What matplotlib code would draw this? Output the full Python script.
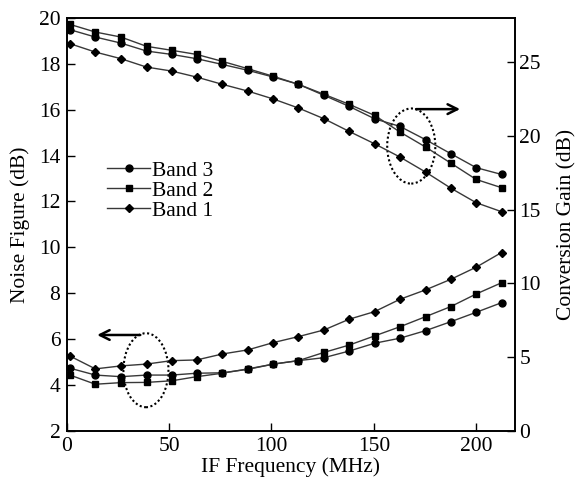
import matplotlib.pyplot as plt
from matplotlib.patches import Ellipse

plt.rcParams['font.family'] = ['Liberation Serif', 'DejaVu Serif']
plt.rcParams['mathtext.fontset'] = 'stix'

# IF frequency points (MHz)
freq = [1.6, 14, 26.5, 39, 51.3, 63.5, 76, 88.5, 101, 113.2, 125.7, 138,
        150.4, 162.8, 175.3, 187.6, 200, 212.4]

# noise figure (dB), left axis
nf_band3 = [4.72, 4.42, 4.35, 4.42, 4.42, 4.50, 4.52, 4.67, 4.90, 5.05, 5.18,
            5.47, 5.81, 6.03, 6.36, 6.75, 7.16, 7.58]
nf_band2 = [4.42, 4.02, 4.09, 4.10, 4.17, 4.35, 4.50, 4.69, 4.90, 5.05, 5.41,
            5.73, 6.13, 6.53, 6.97, 7.41, 7.96, 8.45]
nf_band1 = [5.25, 4.69, 4.82, 4.90, 5.05, 5.08, 5.34, 5.52, 5.84, 6.10, 6.39,
            6.86, 7.19, 7.73, 8.14, 8.60, 9.13, 9.77]

# conversion gain (dB), right axis
cg_band3 = [27.22, 26.72, 26.31, 25.77, 25.54, 25.25, 24.86, 24.46, 24.00,
            23.51, 22.76, 22.01, 21.17, 20.65, 19.75, 18.80, 17.85, 17.39]
cg_band2 = [27.58, 27.06, 26.72, 26.09, 25.82, 25.54, 25.07, 24.57, 24.05,
            23.51, 22.83, 22.15, 21.40, 20.27, 19.25, 18.16, 17.05, 16.49]
cg_band1 = [26.27, 25.70, 25.25, 24.68, 24.41, 24.00, 23.51, 23.05, 22.51,
            21.90, 21.17, 20.31, 19.47, 18.57, 17.55, 16.46, 15.47, 14.86]

labels = ['Band 3', 'Band 2', 'Band 1']
markers = ['o', 's', 'D']

fs = 15.5
fig = plt.figure(figsize=(5.82, 4.92), dpi=100)
ax = fig.add_axes([0.1146, 0.125, 0.7704, 0.838])
ax2 = ax.twinx()

lc = '#383838'
for y, m, lab in zip([nf_band3, nf_band2, nf_band1], markers, labels):
    ax.plot(freq, y, color=lc, lw=1.0, marker=m, ms=5 if m != 'D' else 4.5,
            mfc='k', mec='k', label=lab)
for y, m in zip([cg_band3, cg_band2, cg_band1], markers):
    ax2.plot(freq, y, color=lc, lw=1.0, marker=m, ms=5 if m != 'D' else 4.5,
             mfc='k', mec='k')

ax.set_xlim(0, 219)
ax.set_ylim(2, 20)
ax2.set_ylim(0, 28)
ax.set_xticks([0, 50, 100, 150, 200])
ax.set_yticks(range(2, 21, 2))
ax2.set_yticks(range(0, 26, 5))

ax.tick_params(axis='x', direction='in', length=6, width=1, labelsize=fs, pad=4.5)
ax.tick_params(axis='y', direction='in', length=6, width=1, labelsize=fs, pad=4.5,
               right=False)
ax2.tick_params(axis='y', direction='in', length=6, width=1, labelsize=fs, pad=3)
for a in (ax, ax2):
    for s in a.spines.values():
        s.set_linewidth(1.2)

ax.set_xlabel('IF Frequency (MHz)', fontsize=fs, labelpad=1)
ax.set_ylabel('Noise Figure (dB)', fontsize=fs, labelpad=6)
ax2.set_ylabel('Conversion Gain (dB)', fontsize=fs, labelpad=12)

# dotted ellipses and arrows marking which axis each group uses
ax.add_patch(Ellipse((168.3, 14.42), 23.5, 3.28, fill=False, ls=(0, (1, 1.2)),
                     lw=1.5, color='k'))
ax.add_patch(Ellipse((38.7, 4.63), 22, 3.23, fill=False, ls=(0, (1, 1.2)),
                     lw=1.5, color='k'))
ax.annotate('', xy=(193.5, 16.03), xytext=(169.3, 16.03),
            arrowprops=dict(arrowstyle='->,head_length=0.7,head_width=0.35', lw=1.8, color='k'))
ax.annotate('', xy=(13.5, 6.17), xytext=(37.3, 6.17),
            arrowprops=dict(arrowstyle='->,head_length=0.7,head_width=0.35', lw=1.8, color='k'))

ax.legend(loc='upper left', bbox_to_anchor=(0.09, 0.655), frameon=False,
          fontsize=fs, labelspacing=0.0, handlelength=2.0, handletextpad=0.1,
          borderpad=0, borderaxespad=0)

fig.savefig('out.png', dpi=100)
